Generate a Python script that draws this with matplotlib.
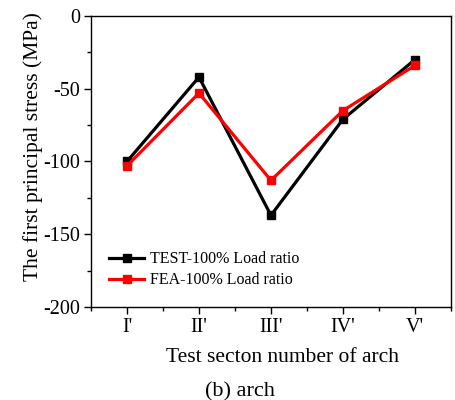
import matplotlib.pyplot as plt
from matplotlib.ticker import MultipleLocator

plt.rcParams['font.family'] = ['Liberation Serif', 'DejaVu Serif']
plt.rcParams['axes.unicode_minus'] = False

sections = ["I'", "II'", "III'", "IV'", "V'"]
test_stress = [-100, -42, -137, -71, -30]
fea_stress = [-103, -53, -113, -65, -34]

fig = plt.figure(figsize=(4.55, 4.0), dpi=100)
ax = fig.add_axes([0.2, 0.2325, 0.791, 0.7275])

x = range(1, len(sections) + 1)
ax.plot(x, test_stress, color='black', lw=2.3, marker='s', ms=5.5,
        label='TEST-100% Load ratio')
ax.plot(x, fea_stress, color='red', lw=2.3, marker='s', ms=5.5,
        label='FEA-100% Load ratio')

ax.set_xlim(0.5, 5.5)
ax.set_ylim(-200, 0)
ax.set_xticks(list(x))
ax.set_xticklabels(sections)
ax.xaxis.set_minor_locator(MultipleLocator(0.5))
ax.yaxis.set_major_locator(MultipleLocator(50))
ax.yaxis.set_minor_locator(MultipleLocator(25))
ax.tick_params(which='both', direction='out', top=False, right=False,
               labelsize=14.5, width=1.0)
ax.tick_params(which='major', length=5, pad=3)
ax.tick_params(which='minor', length=3)
for s in ax.spines.values():
    s.set_linewidth(1.0)

ax.set_ylabel('The first principal stress (MPa)', fontsize=15.5)
ax.yaxis.set_label_coords(-0.132, 0.55)
ax.set_xlabel('Test secton number of arch', fontsize=15.5)
ax.xaxis.set_label_coords(0.533, -0.142)

ax.legend(loc='lower left', bbox_to_anchor=(0.01, 0.015), frameon=False,
          fontsize=11.5, handlelength=2.2, handletextpad=0.35,
          labelspacing=0.3)

fig.text(0.528, 0.01, '(b) arch', fontsize=16, ha='center')

fig.savefig('out.png', dpi=100)
